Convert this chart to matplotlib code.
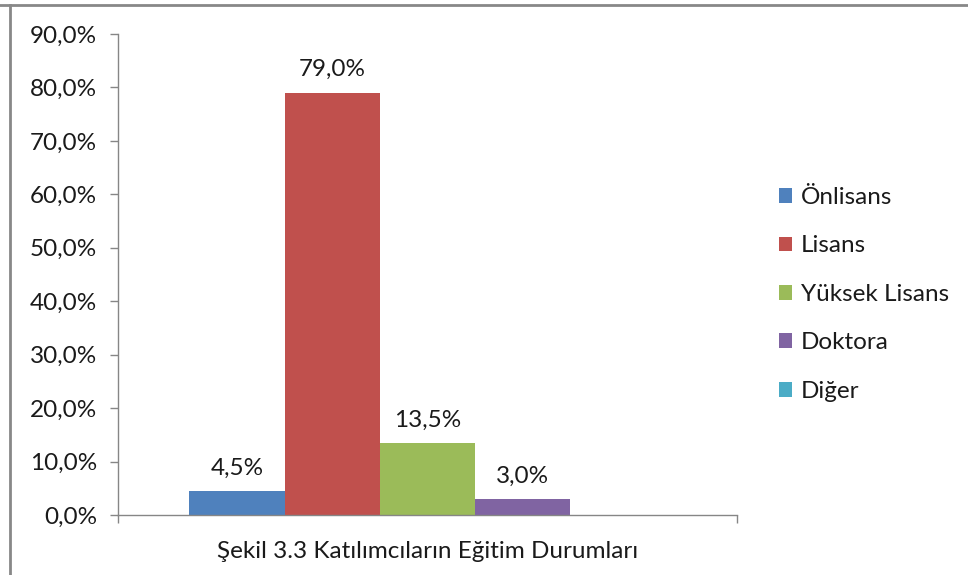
import matplotlib
matplotlib.use("Agg")
import matplotlib.pyplot as plt
from matplotlib.lines import Line2D
from matplotlib.ticker import FuncFormatter, FixedLocator

plt.rcParams['font.family'] = ['Lato', 'DejaVu Sans']

categories = ["Önlisans", "Lisans", "Yüksek Lisans", "Doktora", "Diğer"]
values = [4.5, 79.0, 13.5, 3.0, 0.0]
show_label = [True, True, True, True, False]
colors = ["#4F81BD", "#C0504D", "#9BBB59", "#8064A2", "#4BACC6"]
xlabel = "Şekil 3.3 Katılımcıların Eğitim Durumları"
yticks = [0, 10, 20, 30, 40, 50, 60, 70, 80, 90]

def tr_pct(v):
    return f"{v:.1f}%".replace('.', ',')

fs = 17.5
txt = "#1a1a1a"
grey = "#868686"

fig = plt.figure(figsize=(9.68, 5.75), dpi=100)
ax = fig.add_axes([118/968, 1-515/575, (737-118)/968, (515-34)/575])

n = len(values)
gap = 1.5  # Excel gap width 150%
bw = 1.0 / (n + gap)
start = gap * bw / 2
for i, (c, v, col) in enumerate(zip(categories, values, colors)):
    b = ax.bar(start + i * bw, v, width=bw, align='edge', color=col, label=c, linewidth=0)
    if show_label[i]:
        ax.bar_label(b, labels=[tr_pct(v)], padding=9, fontsize=fs, color=txt)

ax.set_xlim(0, 1)
ax.set_ylim(0, 90)
ax.set_yticks(yticks)
ax.yaxis.set_major_formatter(FuncFormatter(lambda v, p: tr_pct(v)))
ax.tick_params(axis='y', labelsize=fs, colors=grey, labelcolor=txt, length=6, width=1, pad=9)

ax.xaxis.set_major_locator(FixedLocator([0.5]))
ax.set_xticklabels([xlabel])
ax.xaxis.set_minor_locator(FixedLocator([0, 1]))
ax.tick_params(axis='x', which='major', length=0, labelsize=fs, labelcolor=txt, pad=19)
ax.tick_params(axis='x', which='minor', length=6, width=1, colors=grey)

for s in ['top', 'right']:
    ax.spines[s].set_visible(False)
for s in ['left', 'bottom']:
    ax.spines[s].set_color(grey)
    ax.spines[s].set_linewidth(1)

leg = fig.legend(loc='upper left', bbox_to_anchor=(779/968, 1-187/575), frameon=False,
                 fontsize=fs, handlelength=0.55, handleheight=0.55, handletextpad=0.35,
                 labelspacing=1.13, labelcolor=txt, borderaxespad=0, borderpad=0)

# chart-area border (top and left visible in the crop)
fig.add_artist(Line2D([0, 1], [1 - 5/575, 1 - 5/575], transform=fig.transFigure, color="#888888", lw=2))
fig.add_artist(Line2D([10/968, 10/968], [0, 1 - 5/575], transform=fig.transFigure, color="#888888", lw=2))

fig.savefig("out.png", dpi=100)
